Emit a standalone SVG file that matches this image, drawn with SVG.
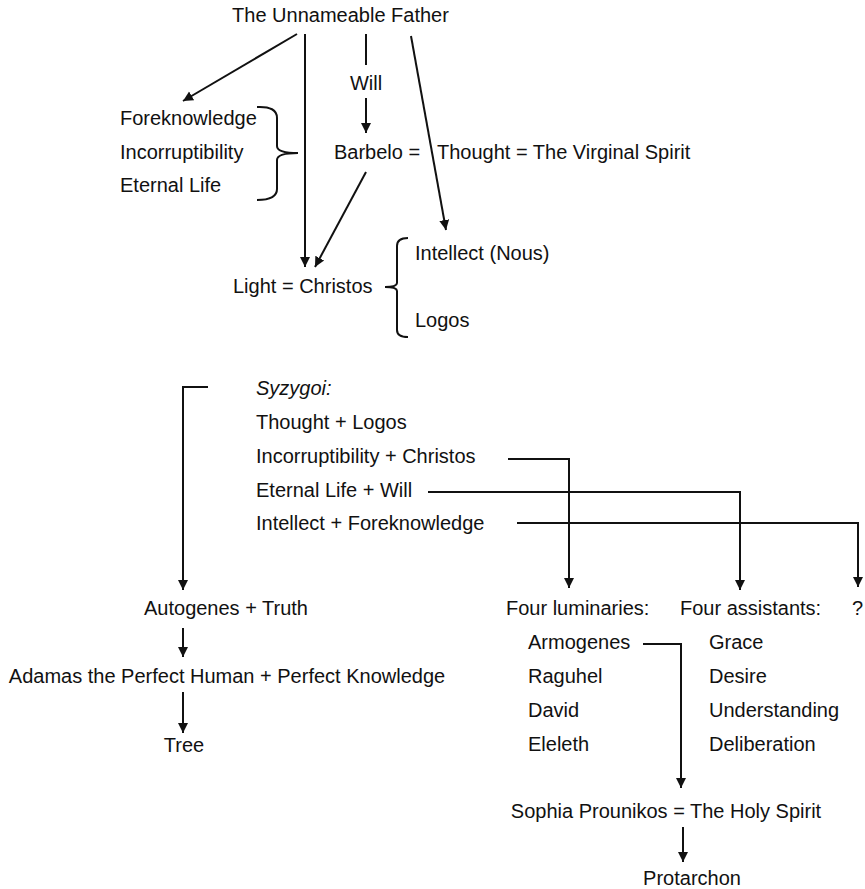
<svg xmlns="http://www.w3.org/2000/svg" width="865" height="889" viewBox="0 0 865 889">
<style>
text{font-family:"Liberation Sans",Arial,sans-serif;font-size:20px;fill:#111}
.m{text-anchor:middle}
.i{font-style:italic}
.c path,.c line{stroke:#111;stroke-width:2;fill:none}
.a{marker-end:url(#ah)}
</style>
<defs>
<marker id="ah" markerUnits="userSpaceOnUse" markerWidth="10" markerHeight="12" refX="10" refY="5" orient="auto" viewBox="0 0 10 10">
<path d="M0,0 L10,5 L0,10 z" fill="#111"/>
</marker>
</defs>
<rect width="865" height="889" fill="#fff"/>
<g id="connectors" class="c">
<line class="a" x1="297" y1="34" x2="183" y2="101"/>
<line class="a" x1="305" y1="34" x2="305" y2="267"/>
<line x1="366" y1="34" x2="366" y2="65"/>
<line class="a" x1="366" y1="98" x2="366" y2="133"/>
<line class="a" x1="411" y1="36" x2="446" y2="230"/>
<line class="a" x1="366" y1="172" x2="315" y2="267"/>
<path d="M257,107 Q277,106 277,118 L277,146 Q277,153 298,153 Q277,153 277,160 L277,189 Q277,200 257,200"/>
<path d="M408,238 Q397,238 397,246 L397,283 Q397,287 385,287 Q397,287 397,291 L397,330 Q397,337 408,337"/>
<path class="a" d="M208,387 L183,387 L183,590"/>
<path class="a" d="M508,459 L569,459 L569,588"/>
<path class="a" d="M428,492 L740,492 L740,590"/>
<path class="a" d="M517,523 L858,523 L858,587"/>
<line class="a" x1="183" y1="628" x2="183" y2="657"/>
<line class="a" x1="183" y1="692" x2="183" y2="733"/>
<path class="a" d="M643,644 L681,644 L681,788"/>
<line class="a" x1="683" y1="827" x2="683" y2="862"/>
</g>
<g id="father"><text class="m" x="340.5" y="22">The Unnameable Father</text></g>
<g id="will"><text class="m" x="366" y="90">Will</text></g>
<g id="triad">
<text x="120" y="125">Foreknowledge</text>
<text x="120" y="159">Incorruptibility</text>
<text x="120" y="192">Eternal Life</text>
</g>
<g id="barbelo"><text x="334" y="159">Barbelo =</text></g>
<g id="thought"><text x="437" y="159">Thought = The Virginal Spirit</text></g>
<g id="light"><text x="233" y="293">Light = Christos</text></g>
<g id="nous"><text x="415" y="260">Intellect (Nous)</text></g>
<g id="logos"><text x="415" y="327">Logos</text></g>
<g id="syzygoi">
<text class="i" x="256" y="395">Syzygoi:</text>
<text x="256" y="429">Thought + Logos</text>
<text x="256" y="463">Incorruptibility + Christos</text>
<text x="256" y="497">Eternal Life + Will</text>
<text x="256" y="530">Intellect + Foreknowledge</text>
</g>
<g id="autogenes"><text class="m" x="226" y="615">Autogenes + Truth</text></g>
<g id="adamas"><text class="m" x="227" y="683">Adamas the Perfect Human + Perfect Knowledge</text></g>
<g id="tree"><text class="m" x="184" y="752">Tree</text></g>
<g id="luminaries">
<text x="506" y="615">Four luminaries:</text>
<text x="528" y="649">Armogenes</text>
<text x="528" y="683">Raguhel</text>
<text x="528" y="717">David</text>
<text x="528" y="751">Eleleth</text>
</g>
<g id="assistants">
<text x="680" y="615">Four assistants:</text>
<text x="709" y="649">Grace</text>
<text x="709" y="683">Desire</text>
<text x="709" y="717">Understanding</text>
<text x="709" y="751">Deliberation</text>
</g>
<g id="unknown"><text x="852" y="615">?</text></g>
<g id="sophia"><text class="m" x="666" y="818">Sophia Prounikos = The Holy Spirit</text></g>
<g id="protarchon"><text class="m" x="692" y="885">Protarchon</text></g>
</svg>
